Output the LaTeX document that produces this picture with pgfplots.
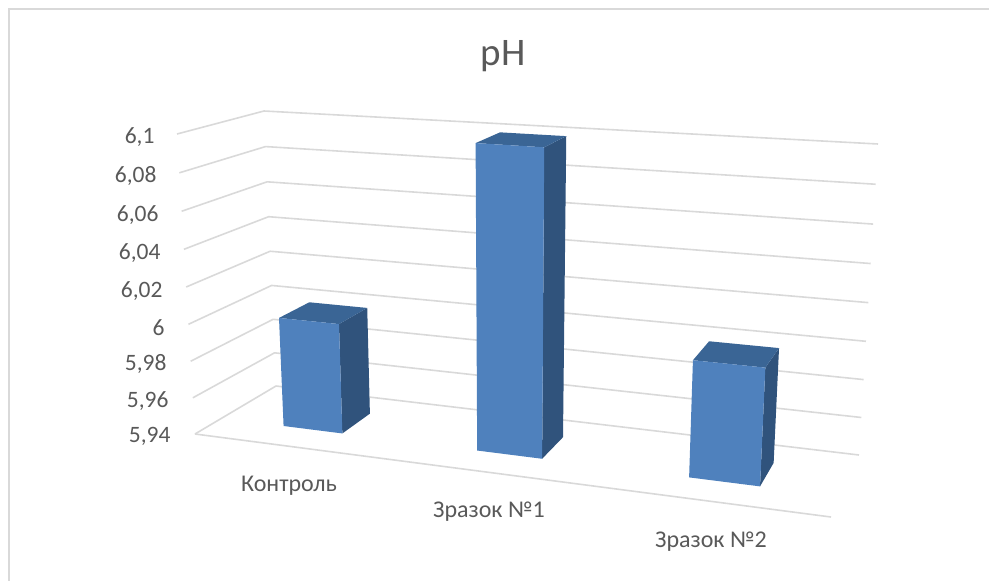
\documentclass[border=0pt]{standalone}
\usepackage{pgfplots}
\pgfplotsset{compat=1.18}
\usepackage{fontspec}
\setmainfont{Carlito}
\definecolor{gridc}{HTML}{D9D9D9}
\definecolor{framec}{HTML}{D9D9D9}
\definecolor{textc}{HTML}{595959}
\definecolor{frontc}{HTML}{4F81BD}
\definecolor{sidec}{HTML}{30537C}
\definecolor{topc}{HTML}{3A6595}
% Every point is (u = position along the category axis 0..3, d = depth 0..1, v = pH value)
% and goes through the chart's oblique view.
\pgfplotsset{
  table/view/.style={
    row sep=crcr,
    x expr={(1-TT(\thisrow{v}))*((1-\thisrow{d})*(195+212*\thisrow{u})+\thisrow{d}*(276+194.33*\thisrow{u}))
           +TT(\thisrow{v})*((1-\thisrow{d})*(177+224.33*\thisrow{u})+\thisrow{d}*(264+204.67*\thisrow{u}))},
    y expr={(1-TT(\thisrow{v}))*((1-\thisrow{d})*(434+27.67*\thisrow{u})+\thisrow{d}*(386+23*\thisrow{u}))
           +TT(\thisrow{v})*((1-\thisrow{d})*(134+14.67*\thisrow{u})+\thisrow{d}*(111+11*\thisrow{u}))},
  }
}
\newcommand{\gridat}[1]{\addplot[gridc,line width=1.6pt,line join=round] table[view]{u d v\\0 0 #1\\0 1 #1\\3 1 #1\\};}
\newcommand{\prism}[3]{%
  \addplot[fill=sidec,draw=none] table[view]{u d v\\#2 0.33 5.94\\#2 0.72 5.94\\#2 0.72 #3\\#2 0.33 #3\\};
  \addplot[fill=topc,draw=none] table[view]{u d v\\#1 0.33 #3\\#2 0.33 #3\\#2 0.72 #3\\#1 0.72 #3\\};
  \addplot[fill=frontc,draw=none] table[view]{u d v\\#1 0.33 5.94\\#2 0.33 5.94\\#2 0.33 #3\\#1 0.33 #3\\};
}
\begin{document}
\begin{tikzpicture}[x=1pt,y=1pt]
\path[use as bounding box] (0,0) rectangle (989,581);
\begin{axis}[
  at={(0,0)},anchor=south west,
  width=989pt,height=581pt,scale only axis,
  xmin=0,xmax=989,ymin=0,ymax=581,y dir=reverse,
  hide axis,clip=false,
  declare function={TT(\v)=((\v-5.94)/0.16)-0.04*((\v-5.94)/0.16)*(1-(\v-5.94)/0.16);},
]
\addplot[framec,line width=1.5pt] coordinates {(9,581) (9,9) (989,9)};
\gridat{5.94}\gridat{5.96}\gridat{5.98}\gridat{6.00}\gridat{6.02}\gridat{6.04}\gridat{6.06}\gridat{6.08}\gridat{6.10}
\addplot[gridc,line width=1.6pt] table[view]{u d v\\0 0 5.94\\3 0 5.94\\};
\prism{0.300}{0.585}{6.0}
\prism{1.239}{1.554}{6.1}
\prism{2.267}{2.611}{6.0}
\node[text=textc,font=\fontsize{39}{44}\selectfont] at (axis cs:503,56) {pH};
\node[anchor=east,text=textc,font=\fontsize{23.5}{28}\selectfont] at (axis cs:158,137) {6,1};
\node[anchor=east,text=textc,font=\fontsize{23.5}{28}\selectfont] at (axis cs:160,176) {6,08};
\node[anchor=east,text=textc,font=\fontsize{23.5}{28}\selectfont] at (axis cs:162,215) {6,06};
\node[anchor=east,text=textc,font=\fontsize{23.5}{28}\selectfont] at (axis cs:164,253) {6,04};
\node[anchor=east,text=textc,font=\fontsize{23.5}{28}\selectfont] at (axis cs:166,291) {6,02};
\node[anchor=east,text=textc,font=\fontsize{23.5}{28}\selectfont] at (axis cs:168,328) {6};
\node[anchor=east,text=textc,font=\fontsize{23.5}{28}\selectfont] at (axis cs:170,364) {5,98};
\node[anchor=east,text=textc,font=\fontsize{23.5}{28}\selectfont] at (axis cs:172,401) {5,96};
\node[anchor=east,text=textc,font=\fontsize{23.5}{28}\selectfont] at (axis cs:174,436) {5,94};
\node[text=textc,font=\fontsize{24}{28}\selectfont] at (axis cs:289,486) {Контроль};
\node[text=textc,font=\fontsize{24}{28}\selectfont] at (axis cs:489,512) {Зразок №1};
\node[text=textc,font=\fontsize{24}{28}\selectfont] at (axis cs:711,542) {Зразок №2};
\end{axis}
\end{tikzpicture}
\end{document}
